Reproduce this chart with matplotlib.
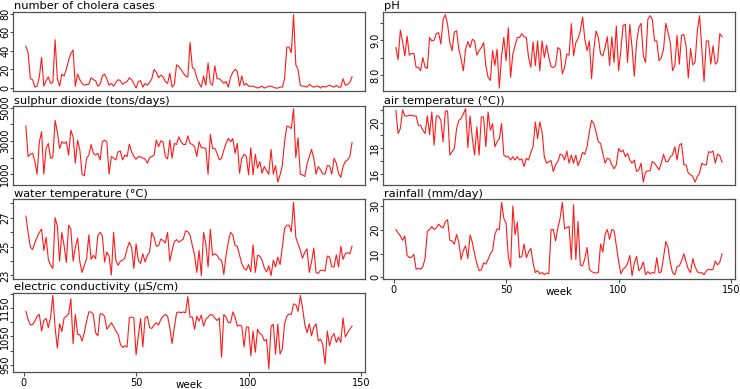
import numpy as np
import matplotlib
matplotlib.use("Agg")
import matplotlib.pyplot as plt

plt.rcParams['font.family'] = ['DejaVu Sans']

# ---------------- data (weekly, weeks 1..146) ----------------
cholera = [45, 38, 10, 9, 1, 2, 12, 33, 2, 8,
           12, 5, 6, 52, 10, 2, 15, 13, 20, 30,
           37, 41, 2, 15, 9, 5, 3, 4, 4, 11,
           9, 8, 2, 4, 13, 15, 10, 3, 5, 2,
           6, 9, 8, 4, 6, 7, 11, 9, 5, 0,
           7, 8, 1, 5, 3, 6, 10, 20, 17, 11,
           14, 12, 7, 5, 16, 1, 4, 25, 23, 20,
           16, 13, 12, 49, 22, 20, 11, 5, 1, 13,
           3, 27, 5, 3, 24, 10, 10, 8, 5, 7,
           1, 12, 17, 20, 18, 2, 13, 3, 5, 2,
           2, 2, 1, 0, 1, 2, 0, 1, 2, 2,
           1, 0, 0, 1, 1, 10, 44, 44, 38, 79,
           25, 20, 3, 2, 2, 1, 4, 2, 1, 2,
           2, 0, 2, 1, 2, 3, 2, 1, 3, 1,
           1, 10, 3, 4, 6, 12]

sulphur = [3900, 2060, 2200, 2260, 1760, 1000, 2950, 3550, 1000, 2550,
           2850, 1960, 2000, 4240, 3550, 2550, 2950, 2850, 2950, 2150,
           3650, 3250, 1660, 3050, 2450, 1000, 900, 1960, 2150, 2790,
           2260, 2150, 2260, 1860, 2950, 3050, 2950, 1000, 2060, 1960,
           1860, 2350, 2390, 1860, 2150, 2060, 2810, 2350, 2060, 1900,
           2060, 2040, 1960, 1920, 1660, 2000, 2060, 2150, 3050, 2650,
           3010, 2950, 2060, 1920, 3050, 1960, 2850, 2790, 3250, 2950,
           2790, 2790, 3310, 2850, 2790, 2650, 2060, 2950, 2590, 2590,
           2550, 1000, 3390, 2550, 2550, 2260, 1860, 1960, 2450, 2850,
           3150, 2950, 3150, 2260, 2850, 1060, 1960, 2200, 2060, 960,
           2590, 960, 2200, 1360, 1760, 1060, 1460, 1200, 1000, 2490,
           1000, 1520, 520, 960, 1520, 2950, 3900, 3850, 3750, 4940,
           2000, 3190, 1000, 960, 860, 1600, 2060, 2490, 1960, 1000,
           1460, 1260, 1020, 1000, 1520, 1500, 1000, 1960, 1660, 1060,
           800, 1460, 1760, 1860, 2060, 2910]

water_temp = [27.11, 25.98, 24.95, 24.80, 25.25, 25.64, 25.98, 26.20, 24.73, 25.64,
              24.11, 23.70, 23.48, 27.00, 26.43, 23.98, 25.98, 25.07, 23.89, 26.48,
              26.20, 23.98, 24.95, 25.59, 23.93, 23.20, 23.70, 24.16, 25.80,
              24.11, 24.39, 24.16, 25.75, 25.98, 25.75, 23.93, 24.61, 24.34,
              23.02, 25.98, 24.05, 23.70, 23.98, 24.05, 24.20, 24.84, 25.30, 24.95,
              23.48, 25.18, 24.05, 23.82, 24.50, 23.93, 24.39, 24.61, 25.98, 25.64,
              25.02, 25.07, 25.52, 25.41, 25.25, 25.98, 23.98, 24.73, 25.34, 25.48,
              25.30, 25.41, 25.52, 26.09, 26.02, 25.80, 25.07, 24.39, 23.20, 24.73,
              22.98, 25.98, 25.18, 23.59, 26.20, 24.39, 24.50, 24.39, 24.11, 24.05,
              23.07, 24.39, 25.30, 25.98, 25.80, 25.07, 25.02, 24.39, 23.82, 23.48,
              23.36, 23.75, 23.25, 25.11, 23.20, 24.39, 24.34, 24.05, 23.52, 23.25,
              23.66, 22.98, 24.05, 23.59, 24.27, 23.75, 24.95, 26.25, 26.48, 26.48,
              26.02, 28.07, 25.64, 25.18, 24.73, 24.20, 24.61, 24.84, 23.20,
              23.93, 24.89, 23.20, 23.14, 23.36, 23.36, 23.30, 24.34, 24.27, 23.59,
              23.59, 24.43, 23.59, 25.02, 24.11, 24.50, 24.57, 24.50, 25.02]

conductivity = [1138, 1110, 1090, 1092, 1104, 1121, 1127, 1069, 1106,
                1113, 1081, 1118, 1194, 1081, 1009, 1094, 1067, 1115, 1121,
                1129, 1182, 1025, 1127, 1058, 1055, 1034, 1063, 1104, 1136,
                1136, 1127, 1063, 1052, 1129, 1129, 1121, 1075, 1086, 1098,
                1086, 1069, 1058, 1023, 1011, 1017, 1013, 1115, 1118, 1115,
                985, 1052, 1113, 1013, 1115, 1121, 1081, 1078, 1090, 1098,
                1090, 1110, 1121, 1127, 1121, 1081, 1025, 1081, 1133,
                1136, 1133, 1136, 1133, 1190, 1118, 1118, 1075,
                1121, 1104, 1125, 1086, 1110, 1118, 1127, 1125, 1115,
                1106, 1115, 977, 1127, 1118, 1098, 1098, 1136, 1118, 1086,
                1090, 1086, 1013, 1083, 1083, 982, 1069, 994,
                1075, 1060, 1055, 1034, 1040, 936, 1086, 1092, 988, 1094,
                988, 1006, 1094, 1121, 1129, 1127, 1164, 1162, 1138, 1194,
                1150, 1092, 1063, 1094, 1052, 1083, 1094, 1034, 1040, 1021,
                953, 1069, 1017, 1048, 1060, 1029, 1048, 1029,
                1115, 1048, 1063, 1075, 1086]

ph = [8.79, 8.44, 9.29, 8.95, 8.55, 9.12, 8.57, 8.62, 8.62, 8.22,
      8.22, 8.12, 8.50, 8.22, 8.19, 9.08, 8.98, 9.00, 9.19, 9.22,
      8.89, 9.60, 9.74, 9.46, 8.93, 8.70, 9.24, 9.27, 8.74, 8.46,
      8.12, 8.74, 8.96, 8.79, 9.03, 8.98, 8.57, 8.70, 8.79, 8.93,
      8.27, 7.93, 7.84, 8.70, 8.27, 8.74, 7.62, 8.55, 9.08, 8.41,
      9.36, 7.93, 8.60, 8.84, 9.08, 9.08, 9.19, 9.10, 9.08, 8.50,
      8.22, 8.95, 8.27, 8.98, 8.12, 8.98, 8.50, 8.86, 8.50, 8.24,
      8.21, 8.27, 8.79, 8.74, 8.03, 8.22, 8.60, 8.57, 9.48, 8.55,
      8.93, 9.05, 9.27, 9.67, 9.03, 8.70, 8.98, 7.89, 8.74, 9.27,
      9.08, 8.60, 8.55, 8.79, 9.10, 8.27, 9.10, 8.36, 9.41, 8.12,
      8.70, 9.43, 9.46, 8.36, 9.46, 8.79, 7.96, 8.93, 9.36, 9.49,
      8.55, 8.36, 9.60, 9.71, 9.60, 8.98, 8.98, 8.41, 8.50, 8.74,
      9.49, 9.22, 8.93, 8.12, 8.27, 9.14, 8.31, 9.14, 9.17, 8.84,
      7.91, 8.76, 8.29, 8.36, 9.27, 9.71, 8.74, 7.81, 8.98, 8.98,
      8.31, 8.84, 8.31, 8.38, 9.19, 9.10]

air_temp = [20.96, 19.14, 19.53, 21.00, 20.52, 20.52, 20.57, 20.57, 20.52, 20.52,
            19.79, 19.79, 19.40, 19.14, 20.52, 19.06, 20.83, 18.23, 20.52, 20.52,
            20.18, 18.49, 20.91, 20.91, 17.45, 17.71, 17.97, 19.53, 20.18, 20.31,
            20.70, 21.09, 18.03, 20.52, 18.75, 17.45, 19.66, 17.45, 20.44, 20.44,
            18.10, 20.83, 19.40, 19.92, 18.10, 18.49, 18.75, 19.92, 17.45, 17.32,
            17.32, 17.06, 17.32, 17.06, 17.32, 17.06, 17.14, 16.55, 17.19, 17.06,
            17.66, 18.10, 20.05, 18.75, 20.05, 19.27, 17.32, 16.81, 16.94, 17.01,
            16.16, 16.68, 16.94, 17.51, 17.45, 17.06, 17.77, 16.81, 17.45, 16.81,
            17.45, 16.62, 17.06, 17.66, 17.51, 18.10, 19.27, 20.18, 19.92, 19.27,
            18.49, 18.36, 17.58, 16.81, 17.19, 17.14, 16.68, 16.37, 16.68, 17.97,
            17.71, 17.84, 17.32, 17.58, 17.06, 16.81, 17.06, 16.16, 16.29, 16.81,
            15.32, 16.11, 16.21, 16.21, 16.94, 16.81, 16.55, 16.29, 16.81, 17.51,
            16.94, 16.94, 17.32, 17.45, 18.10, 17.06, 18.23, 18.36, 16.68, 16.68,
            16.03, 15.90, 15.77, 15.32, 15.77, 16.03, 16.81, 16.68, 16.68, 17.71,
            17.66, 17.77, 16.81, 17.51, 17.40, 16.89]

rainfall = [20.1, 18.7, 17.4, 15.6, 17.4, 9.2, 8.3, 8.5, 9.6,
            3.4, 3.8, 3.4, 4.5, 7.9, 19.4, 20.1, 21.4, 20.1, 20.8,
            22.4, 21.4, 20.8, 23.5, 24.2, 15.6, 15.3, 14.0, 18.0, 14.7,
            7.5, 11.3, 13.3, 7.9, 17.8, 14.7, 9.9, 5.8, 2.8, 3.1,
            6.1, 5.6, 7.5, 9.9, 11.3, 18.0, 20.4, 20.1, 31.6, 24.8,
            22.8, 8.5, 4.2, 30.0, 18.0, 23.2, 8.3, 8.8, 14.0, 8.3,
            10.6, 12.2, 6.1, 2.0, 2.8, 1.5, 2.0, 1.1, 1.8, 1.5,
            20.1, 20.1, 15.3, 20.8, 24.8, 31.6, 20.4, 21.0, 21.4, 7.5,
            30.5, 7.5, 23.5, 5.2, 4.8, 7.9, 12.6, 3.4, 2.4, 2.0,
            1.8, 2.0, 14.0, 10.6, 18.0, 20.1, 16.0, 20.1, 19.7,
            13.3, 6.9, 1.5, 3.4, 4.2, 5.8, 9.2, 0.7, 6.1, 8.8,
            2.8, 3.8, 6.5, 1.1, 2.4, 1.5, 2.0, 1.8, 8.3, 1.8,
            2.4, 8.5, 15.1, 12.6, 6.1, 2.0, 1.1, 4.5, 4.8,
            6.9, 9.9, 6.5, 3.4, 2.0, 7.9, 4.5, 2.4, 1.8, 2.0,
            1.1, 2.8, 3.4, 3.1, 3.4, 6.9, 5.2, 6.5, 9.9]

titles = ["number of cholera cases", "sulphur dioxide (tons/days)",
          "water temperature (\u00b0C)", "electric conductivity (\u00b5S/cm)",
          "pH", "air temperature (\u00b0C))", "rainfall (mm/day)"]

cholera_ticks = [0, 20, 40, 60, 80]
cholera_labels = ["0", "20", "40", "60", "80"]
sulphur_ticks = [1000, 2000, 3000, 4000, 5000]
sulphur_labels = ["1000", "", "3000", "", "5000"]
water_ticks = [23, 24, 25, 26, 27, 28]
water_labels = ["23", "", "25", "", "27", ""]
cond_ticks = [950, 1000, 1050, 1100, 1150, 1200]
cond_labels = ["950", "", "1050", "", "1150", ""]
ph_ticks = [8.0, 8.5, 9.0, 9.5]
ph_labels = ["8.0", "", "9.0", ""]
air_ticks = [16, 17, 18, 19, 20, 21]
air_labels = ["16", "", "18", "", "20", ""]
rain_ticks = [0, 10, 20, 30]
rain_labels = ["0", "10", "20", "30"]
week_ticks = [0, 50, 100, 150]
week_labels = ["0", "50", "100", "150"]

# ---------------- layout ----------------
W, H = 740, 389
fig = plt.figure(figsize=(W / 100, H / 100), dpi=100)

AX_W, AX_H = 352.3, 79.3
LEFT_X, RIGHT_X = 12.8, 382.8
ROW_TOP = [11.7, 105.8, 199.3, 292.5]

FRAME = "#505050"
n_weeks = max(len(s) for s in [cholera, sulphur, water_temp, conductivity, ph, air_temp, rainfall])
xr = n_weeks - 1
xlim = (1 - 0.04 * xr, n_weeks + 0.04 * xr)


def panel(xpx, row, data, title, yt, yl, show_x=False):
    ax = fig.add_axes([xpx / W, 1 - (ROW_TOP[row] + AX_H) / H, AX_W / W, AX_H / H])
    weeks = np.arange(1, len(data) + 1)
    ax.plot(weeks, data, color="#ff1a1a", lw=0.8)
    lo, hi = min(data), max(data)
    r = hi - lo
    ax.set_xlim(*xlim)
    ax.set_yticks(yt)
    ax.set_yticklabels(yl)
    ax.set_ylim(lo - 0.04 * r, hi + 0.04 * r)
    for s in ax.spines.values():
        s.set_color(FRAME)
        s.set_linewidth(0.9)
    ax.tick_params(axis="y", direction="out", length=2.5, width=0.8, color=FRAME,
                   pad=0.8, labelsize=7)
    plt.setp(ax.get_yticklabels(), rotation=90, rotation_mode="anchor",
             ha="center", va="baseline")
    if show_x:
        ax.set_xticks(week_ticks)
        ax.set_xticklabels(week_labels)
        ax.tick_params(axis="x", direction="out", length=3.0, width=0.8, color=FRAME,
                       pad=1.5, labelsize=7)
        ax.set_xlabel("week", fontsize=7.4, va="top")
        ax.xaxis.set_label_coords(0.5, -0.1)
    else:
        ax.set_xticks([])
    ax.set_title(title, loc="left", fontsize=8.2, pad=1.6, x=0.003)
    return ax


panel(LEFT_X, 0, cholera, titles[0], cholera_ticks, cholera_labels)
panel(LEFT_X, 1, sulphur, titles[1], sulphur_ticks, sulphur_labels)
panel(LEFT_X, 2, water_temp, titles[2], water_ticks, water_labels)
panel(LEFT_X, 3, conductivity, titles[3], cond_ticks, cond_labels, show_x=True)
panel(RIGHT_X, 0, ph, titles[4], ph_ticks, ph_labels)
panel(RIGHT_X, 1, air_temp, titles[5], air_ticks, air_labels)
panel(RIGHT_X, 2, rainfall, titles[6], rain_ticks, rain_labels, show_x=True)

fig.savefig("out.png", dpi=100)
